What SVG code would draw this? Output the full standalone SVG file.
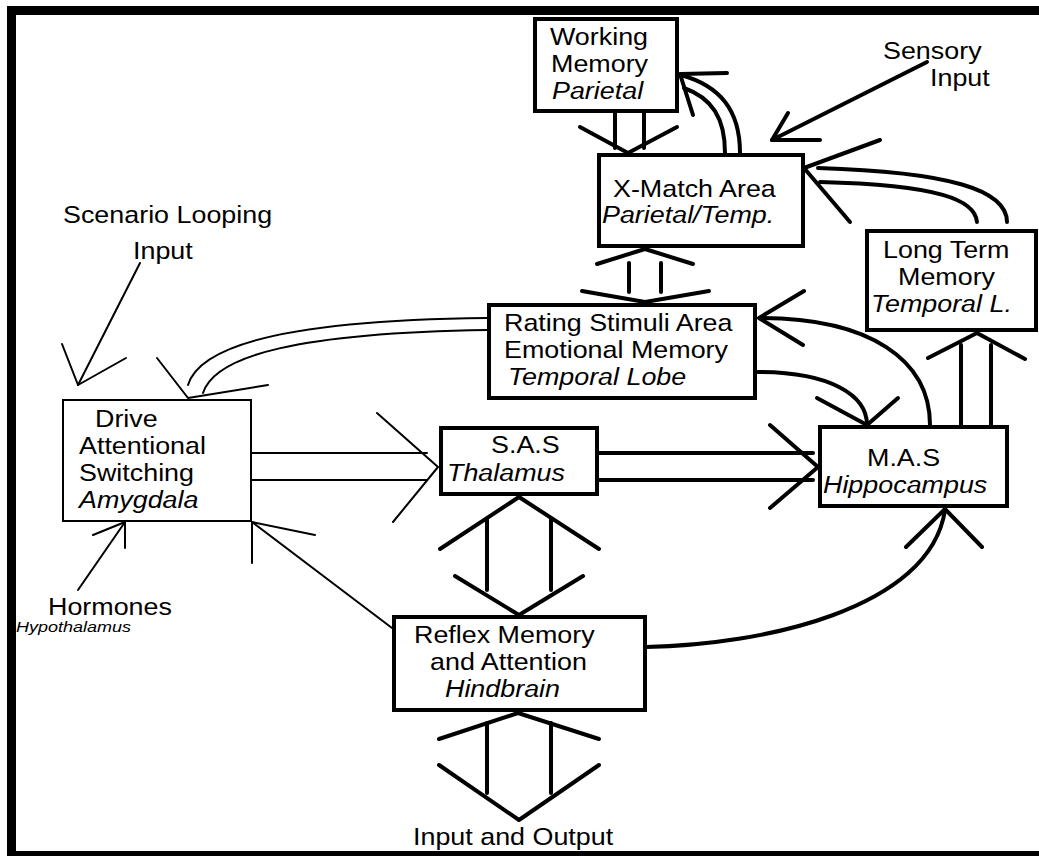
<svg xmlns="http://www.w3.org/2000/svg" width="1039" height="856" viewBox="0 0 1039 856">
  <style>
    .frame { fill: #000; }
    .box { fill: #fff; stroke: #000; stroke-width: 4; }
    .box-thin { fill: #fff; stroke: #000; stroke-width: 2; }
    .thick { fill: none; stroke: #000; stroke-width: 4; stroke-linecap: round; stroke-linejoin: round; }
    .thin { fill: none; stroke: #000; stroke-width: 2; stroke-linecap: round; stroke-linejoin: round; }
    text { font-family: "Liberation Sans", Arial, Helvetica, sans-serif; font-size: 24px; fill: #000; }
    .it { font-style: italic; }
    .small { font-size: 14px; font-style: italic; }
  </style>

  <!-- page frame -->
  <g id="frame">
    <rect class="frame" x="7" y="6" width="1032" height="9"/>
    <rect class="frame" x="7" y="6" width="9" height="850"/>
    <rect class="frame" x="7" y="851" width="1032" height="5"/>
  </g>

  <!-- connectors -->
  <g id="connectors">
    <!-- Working Memory -> X-Match -->
    <line class="thick" x1="615" y1="113" x2="615" y2="148"/>
    <line class="thick" x1="644" y1="113" x2="644" y2="148"/>
    <polyline class="thick" points="580,127 628,153 677,127"/>

    <!-- X-Match -> Working Memory -->
    <path class="thick" d="M740,153 C740,110 720,86 681,75"/>
    <path class="thick" d="M725,153 C725,118 712,98 684,88"/>
    <polyline class="thick" points="727,73 680,74 693,115"/>

    <!-- Sensory input -> X-Match -->
    <line class="thick" x1="927" y1="62" x2="772" y2="140"/>
    <polyline class="thick" points="788,113 772,140 820,140"/>

    <!-- Long Term Memory -> X-Match -->
    <path class="thick" d="M1007,222 C1007,190 950,172 818,168"/>
    <path class="thick" d="M977,222 C975,200 940,185 820,182"/>
    <polyline class="thick" points="880,140 804,168 850,222"/>

    <!-- X-Match <-> Rating Stimuli -->
    <polyline class="thick" points="597,264 645,249 693,264"/>
    <line class="thick" x1="629" y1="263" x2="629" y2="292"/>
    <line class="thick" x1="661" y1="263" x2="661" y2="292"/>
    <polyline class="thick" points="582,291 645,302 709,291"/>

    <!-- M.A.S -> Rating Stimuli -->
    <path class="thick" d="M760,318 C870,318 930,360 930,425"/>
    <polyline class="thick" points="804,291 759,318 803,345"/>

    <!-- Rating Stimuli -> M.A.S -->
    <path class="thick" d="M758,372 C830,372 867,395 867,425"/>
    <polyline class="thick" points="817,398 867,425 898,398"/>

    <!-- M.A.S -> Long Term Memory -->
    <line class="thick" x1="961" y1="425" x2="961" y2="345"/>
    <line class="thick" x1="991" y1="425" x2="991" y2="345"/>
    <polyline class="thick" points="928,358 977,333 1025,359"/>

    <!-- Rating Stimuli -> Drive -->
    <path class="thin" d="M188,385 C200,345 290,320 487,318"/>
    <path class="thin" d="M203,393 C215,355 300,333 487,330"/>
    <polyline class="thin" points="157,358 188,398 268,385"/>

    <!-- Scenario looping input -> Drive -->
    <line class="thin" x1="140" y1="263" x2="78" y2="385"/>
    <polyline class="thin" points="62,344 78,385 126,358"/>

    <!-- Drive -> S.A.S -->
    <line class="thin" x1="252" y1="453" x2="427" y2="453"/>
    <line class="thin" x1="252" y1="480" x2="427" y2="480"/>
    <polyline class="thin" points="377,413 438,467 393,522"/>

    <!-- Hormones -> Drive -->
    <line class="thin" x1="78" y1="590" x2="125" y2="522"/>
    <polyline class="thin" points="93,535 125,522 125,548"/>

    <!-- Reflex -> Drive -->
    <line class="thin" x1="392" y1="628" x2="252" y2="522"/>
    <polyline class="thin" points="315,535 252,522 252,563"/>

    <!-- S.A.S -> M.A.S -->
    <line class="thick" x1="599" y1="453" x2="813" y2="453"/>
    <line class="thick" x1="599" y1="480" x2="813" y2="480"/>
    <polyline class="thick" points="770,425 818,467 770,508"/>

    <!-- S.A.S <-> Reflex -->
    <polyline class="thick" points="440,549 519,497 599,549"/>
    <line class="thick" x1="487" y1="520" x2="487" y2="590"/>
    <line class="thick" x1="551" y1="520" x2="551" y2="590"/>
    <polyline class="thick" points="455,576 519,615 583,576"/>

    <!-- Reflex -> M.A.S -->
    <path class="thick" d="M646,647 C760,645 930,610 945,510"/>
    <polyline class="thick" points="906,547 945,509 982,547"/>

    <!-- Reflex <-> input and output -->
    <polyline class="thick" points="439,739 518,713 599,739"/>
    <line class="thick" x1="487" y1="723" x2="487" y2="793"/>
    <line class="thick" x1="551" y1="723" x2="551" y2="793"/>
    <polyline class="thick" points="439,765 519,820 599,765"/>
  </g>

  <!-- nodes -->
  <g id="working-memory">
    <rect class="box" x="535" y="19" width="142" height="92"/>
    <text transform="translate(550 45) scale(1.12 1)">Working</text>
    <text transform="translate(551 72) scale(1.12 1)">Memory</text>
    <text class="it" transform="translate(552 99) scale(1.12 1)">Parietal</text>
  </g>

  <g id="x-match">
    <rect class="box" x="599" y="155" width="204" height="91"/>
    <text transform="translate(613 197) scale(1.12 1)">X-Match Area</text>
    <text class="it" transform="translate(602 223) scale(1.12 1)">Parietal/Temp.</text>
  </g>

  <g id="sensory-input">
    <text transform="translate(883 59) scale(1.12 1)">Sensory</text>
    <text transform="translate(930 86) scale(1.12 1)">Input</text>
  </g>

  <g id="long-term-memory">
    <rect class="box" x="867" y="231" width="169" height="99"/>
    <text transform="translate(883 258) scale(1.12 1)">Long Term</text>
    <text transform="translate(898 285) scale(1.12 1)">Memory</text>
    <text class="it" transform="translate(871 312) scale(1.12 1)">Temporal L.</text>
  </g>

  <g id="scenario-looping">
    <text transform="translate(63 223) scale(1.12 1)">Scenario Looping</text>
    <text transform="translate(133 259) scale(1.12 1)">Input</text>
  </g>

  <g id="rating-stimuli">
    <rect class="box" x="489" y="305" width="266" height="93"/>
    <text transform="translate(504 331) scale(1.12 1)">Rating Stimuli Area</text>
    <text transform="translate(504 358) scale(1.12 1)">Emotional Memory</text>
    <text class="it" transform="translate(508 385) scale(1.12 1)">Temporal Lobe</text>
  </g>

  <g id="drive">
    <rect class="box-thin" x="63" y="400" width="188" height="121"/>
    <text transform="translate(95 427) scale(1.12 1)">Drive</text>
    <text transform="translate(79 454) scale(1.12 1)">Attentional</text>
    <text transform="translate(79 481) scale(1.12 1)">Switching</text>
    <text class="it" transform="translate(79 508) scale(1.12 1)">Amygdala</text>
  </g>

  <g id="sas">
    <rect class="box" x="441" y="428" width="156" height="66"/>
    <text transform="translate(491 453) scale(1.12 1)">S.A.S</text>
    <text class="it" transform="translate(447 481) scale(1.12 1)">Thalamus</text>
  </g>

  <g id="mas">
    <rect class="box" x="820" y="427" width="187" height="79"/>
    <text transform="translate(867 466) scale(1.12 1)">M.A.S</text>
    <text class="it" transform="translate(823 493) scale(1.12 1)">Hippocampus</text>
  </g>

  <g id="hormones">
    <text transform="translate(48 615) scale(1.12 1)">Hormones</text>
    <text class="small" x="16" y="632" textLength="115" lengthAdjust="spacingAndGlyphs">Hypothalamus</text>
  </g>

  <g id="reflex">
    <rect class="box" x="394" y="617" width="251" height="93"/>
    <text transform="translate(414 643) scale(1.12 1)">Reflex Memory</text>
    <text transform="translate(430 670) scale(1.12 1)">and Attention</text>
    <text class="it" transform="translate(445 697) scale(1.12 1)">Hindbrain</text>
  </g>

  <g id="input-output">
    <text transform="translate(413 845) scale(1.12 1)">Input and Output</text>
  </g>
</svg>
